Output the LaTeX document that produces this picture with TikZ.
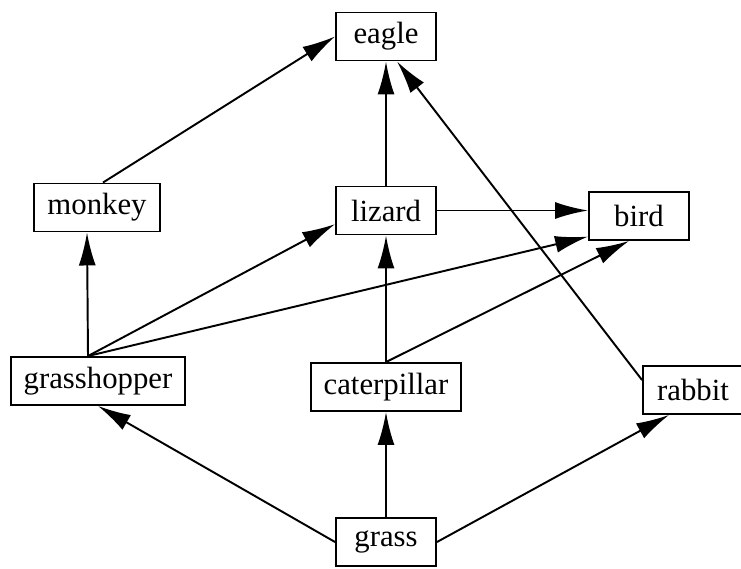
\documentclass[tikz,border=0pt]{standalone}
\usepackage{fontspec}
\setmainfont{Liberation Serif}
\usetikzlibrary{arrows.meta}
\begin{document}
\begin{tikzpicture}[scale=1]
    \tikzset{animal/.style={rectangle,draw,minimum width=2cm,minimum height=0.96cm,inner xsep=0.26cm,line width=1.1pt,fill=white,font=\fontsize{17.5}{21}\selectfont}}
    \tikzset{eats/.style={-{Latex[length=0.66cm,width=0.34cm]},line width=1.1pt}}
    \useasboundingbox (0,0) rectangle (14.82,11.36);
    \node[animal] (eagle) at (7.72,10.63) {eagle};
    \node[animal] (monkey) at (1.94,7.21) {monkey};
    \node[animal] (lizard) at (7.72,7.15) {lizard};
    \node[animal] (bird) at (12.78,7.04) {bird};
    \node[animal] (grasshopper) at (1.96,3.74) {grasshopper};
    \node[animal] (caterpillar) at (7.72,3.62) {caterpillar};
    \node[animal] (rabbit) at (13.86,3.56) {rabbit};
    \node[animal] (grass) at (7.72,0.52) {grass};
    \draw[eats] ([xshift=0.12cm]monkey.north) -- (eagle.west);
    \draw[eats] (lizard.north) -- (eagle.south);
    \draw[eats] ([yshift=-0.3cm]rabbit.north west) -- ([xshift=0.22cm]eagle.south);
    \draw[eats] (lizard.east) -- (lizard.east -| bird.west);
    \draw[eats] ([xshift=-0.2cm]grasshopper.north) -- ([xshift=-0.2cm]monkey.south);
    \draw[eats] ([xshift=-0.2cm]grasshopper.north) -- (lizard.195);
    \draw[eats] ([xshift=-0.2cm]grasshopper.north) -- (bird.202);
    \draw[eats] (caterpillar.north) -- (lizard.south);
    \draw[eats] (caterpillar.north) -- ([xshift=-0.2cm]bird.south);
    \draw[eats] (grass.west) -- (grasshopper.south);
    \draw[eats] (grass.north) -- (caterpillar.south);
    \draw[eats] (grass.east) -- ([xshift=0.54cm]rabbit.south west);
\end{tikzpicture}
\end{document}
